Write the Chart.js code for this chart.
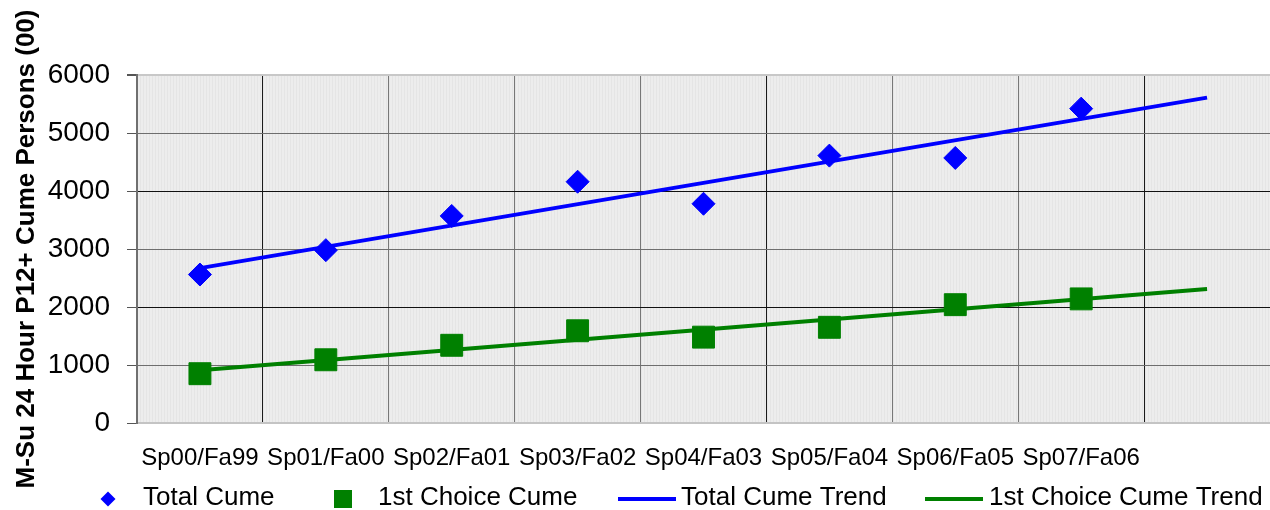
<!DOCTYPE html>
<html><head><meta charset="utf-8">
<style>html,body{margin:0;padding:0;background:#fff;overflow:hidden;width:1270px;height:510px}
#wrap{position:absolute;left:0;top:0;width:1270px;height:510px}
#c{display:block;width:1270px;height:510px}</style>
<script src="https://cdn.jsdelivr.net/npm/chart.js@4/dist/chart.umd.min.js"></script>
</head><body>
<div id="wrap"><canvas id="c" width="1270" height="510"></canvas></div>
<script>
// ---- data ----
const categories = ['Sp00/Fa99','Sp01/Fa00','Sp02/Fa01','Sp03/Fa02','Sp04/Fa03','Sp05/Fa04','Sp06/Fa05','Sp07/Fa06',''];
const totalCume = [2560, 2980, 3570, 4160, 3780, 4610, 4570, 5420, null];
const firstChoiceCume = [850, 1090, 1340, 1590, 1480, 1650, 2040, 2140, null];
const totalCumeTrend = [2670, null, null, null, null, null, null, null, 5610];
const firstChoiceTrend = [910, null, null, null, null, null, null, null, 2310];
const yTicks = [0, 1000, 2000, 3000, 4000, 5000, 6000];
const yTickLabels = ['0', '1000', '2000', '3000', '4000', '5000', '6000'];
const seriesNames = ['Total Cume', '1st Choice Cume', 'Total Cume Trend', '1st Choice Cume Trend'];
const yTitle = 'M-Su 24 Hour P12+ Cume Persons (00)';

const FONT = '"Liberation Sans", Arial, sans-serif';
Chart.defaults.font.family = FONT;
Chart.defaults.color = '#000';

const BLUE = '#0000ff', GREEN = '#008000';

// plot background with faint vertical stripes
const bgPlugin = {
  id: 'bg',
  beforeDraw(chart) {
    const {ctx, chartArea: a} = chart;
    const p = document.createElement('canvas'); p.width = 3; p.height = 1;
    const pc = p.getContext('2d');
    pc.fillStyle = '#ededed'; pc.fillRect(0,0,3,1);
    pc.fillStyle = '#e5e5e5'; pc.fillRect(2,0,1,1);
    ctx.save();
    ctx.fillStyle = ctx.createPattern(p, 'repeat');
    ctx.fillRect(a.left, a.top, a.right - a.left, a.bottom - a.top);
    ctx.restore();
  }
};

// custom legend row
const legendPos = [
  {kind: 'diamond', mx: 108, tx: 143},
  {kind: 'square', mx: 343, tx: 378},
  {kind: 'line', l0: 618, l1: 676, tx: 681},
  {kind: 'line', l0: 925, l1: 983, tx: 989}
];
const legendPlugin = {
  id: 'legendRow',
  afterDraw(chart) {
    const ctx = chart.ctx;
    ctx.save();
    chart.data.datasets.forEach((ds, i) => {
      const L = legendPos[i];
      const col = ds.borderColor;
      ctx.fillStyle = col; ctx.strokeStyle = col;
      if (L.kind === 'diamond') {
        ctx.beginPath();
        ctx.moveTo(L.mx, 491.5); ctx.lineTo(L.mx + 7.5, 499); ctx.lineTo(L.mx, 506.5); ctx.lineTo(L.mx - 7.5, 499);
        ctx.closePath(); ctx.fill();
      } else if (L.kind === 'square') {
        ctx.fillRect(L.mx - 9, 490, 18, 18);
      } else {
        ctx.lineWidth = 4;
        ctx.beginPath(); ctx.moveTo(L.l0, 499); ctx.lineTo(L.l1, 499); ctx.stroke();
      }
      ctx.fillStyle = '#000';
      ctx.font = '26px ' + FONT;
      ctx.textBaseline = 'alphabetic';
      ctx.textAlign = 'left';
      ctx.fillText(ds.label, L.tx, 505);
    });
    ctx.restore();
  }
};

const vGridColors = [null, '#1a1a1a', '#777777', '#777777', '#777777', '#1a1a1a', '#777777', '#777777', '#1a1a1a', 'rgba(0,0,0,0)'];

new Chart(document.getElementById('c'), {
  type: 'line',
  data: {
    labels: categories,
    datasets: [
      {label: seriesNames[0], data: totalCume, showLine: false, borderColor: BLUE, backgroundColor: BLUE,
       pointStyle: 'rectRot', pointRadius: 11.5, pointBorderWidth: 1, pointHoverRadius: 11.5, order: 1},
      {label: seriesNames[1], data: firstChoiceCume, showLine: false, borderColor: GREEN, backgroundColor: GREEN,
       pointStyle: 'rect', pointRadius: 15.5, pointBorderWidth: 1, pointHoverRadius: 15.5, order: 1},
      {label: seriesNames[2], data: totalCumeTrend, spanGaps: true, borderColor: BLUE, borderWidth: 4,
       pointRadius: 0, tension: 0, order: 2},
      {label: seriesNames[3], data: firstChoiceTrend, spanGaps: true, borderColor: GREEN, borderWidth: 4,
       pointRadius: 0, tension: 0, order: 2}
    ]
  },
  options: {
    responsive: false,
    animation: false,
    devicePixelRatio: 1,
    layout: {autoPadding: false, padding: {top: 75, right: 0, bottom: 0, left: 0}},
    plugins: {legend: {display: false}, tooltip: {enabled: false}},
    scales: {
      x: {
        offset: true,
        grid: {offset: true, drawTicks: false,
               color: ctx => vGridColors[ctx.index] || 'rgba(0,0,0,0)', lineWidth: 1},
        border: {display: true, color: '#c4c4c4', width: 2},
        ticks: {font: {size: 24}, color: '#000', padding: 21, maxRotation: 0, autoSkip: false},
        afterFit(s) { s.height = 87; s.paddingLeft = 0; s.paddingRight = 0; }
      },
      y: {
        min: 0, max: 6000,
        afterBuildTicks(s) { s.ticks = yTicks.map(v => ({value: v})); },
        grid: {
          drawTicks: true, tickLength: 10, tickColor: '#555555',
          color: ctx => {
            const v = ctx.tick ? ctx.tick.value : null;
            if (v === 6000) return '#c8c8c8';
            if (v === 0) return 'rgba(0,0,0,0)';
            return (v === 2000 || v === 4000) ? '#111111' : '#6e6e6e';
          },
          lineWidth: ctx => (ctx.tick && ctx.tick.value === 6000) ? 2 : 1
        },
        border: {display: true, color: '#707070', width: 2},
        ticks: {font: {size: 28}, color: '#000', padding: 17,
                callback: (v) => { const i = yTicks.indexOf(v); return i >= 0 ? yTickLabels[i] : ''; }},
        title: {display: true, text: yTitle, font: {size: 26, weight: 'bold'}, color: '#000',
                padding: {top: 11, bottom: 0}},
        afterFit(s) { s.width = 137; s.paddingTop = 0; s.paddingBottom = 0; }
      }
    }
  },
  plugins: [bgPlugin, legendPlugin]
});
</script>
</body></html>
